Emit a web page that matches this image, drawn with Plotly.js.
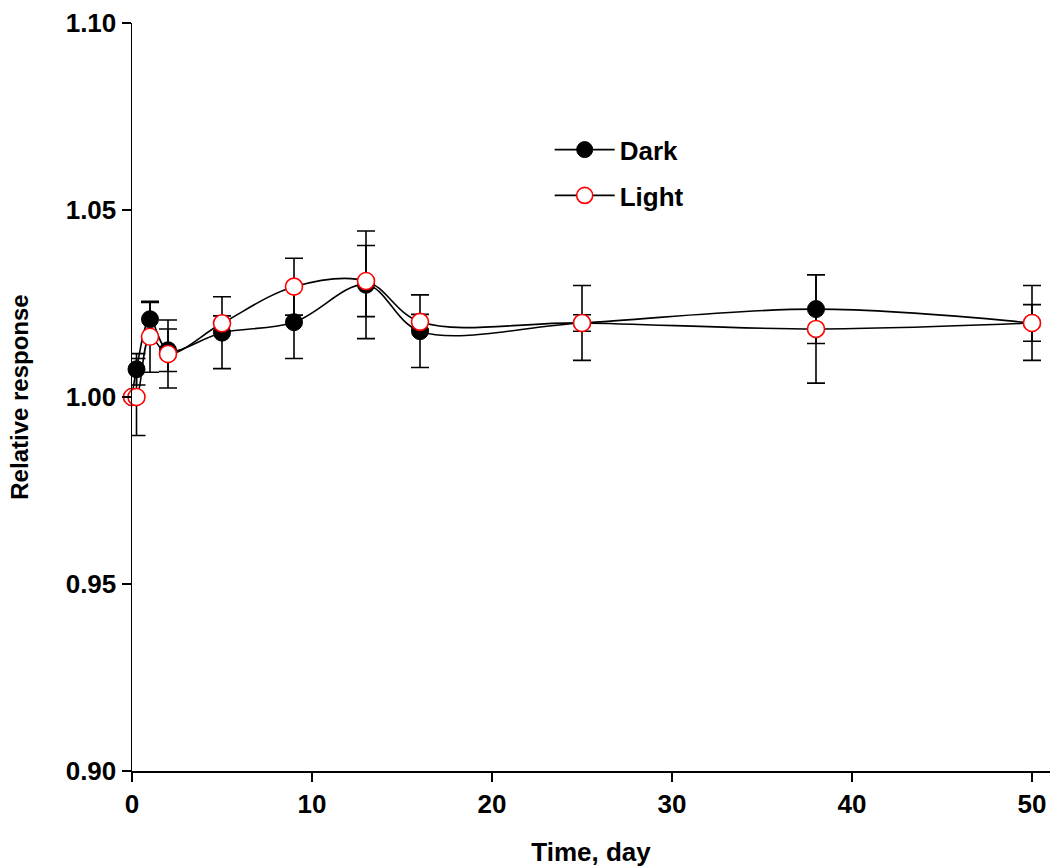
<!DOCTYPE html>
<html>
<head>
<meta charset="utf-8">
<script src="https://cdn.plot.ly/plotly-3.0.1.min.js"></script>
<style>html,body{margin:0;padding:0;background:#fff;}#chart{width:1053px;height:867px;}</style>
</head>
<body>
<div id="chart"></div>
<script>
const timeDays = [0, 0.25, 1, 2, 5, 9, 13, 16, 25, 38, 50];
const darkValues = [1.000, 1.0074, 1.0208, 1.0125, 1.0172, 1.0200, 1.0300, 1.0176, 1.0198, 1.0235, 1.0198];
const darkErrors = [0, 0.0042, 0.0045, 0.0057, 0.0096, 0.0097, 0.0144, 0.0097, 0.0100, 0.0092, 0.0100];
const lightValues = [1.000, 1.000, 1.0161, 1.0115, 1.0197, 1.0295, 1.0310, 1.0201, 1.0198, 1.0182, 1.0198];
const lightErrors = [0, 0.0103, 0.0095, 0.0091, 0.0020, 0.0076, 0.0095, 0.0020, 0.0022, 0.0145, 0.0049];
const seriesNames = ['Dark', 'Light'];
const yTicks = [0.90, 0.95, 1.00, 1.05, 1.10];
const xTicks = [0, 10, 20, 30, 40, 50];

const font = {family: 'Liberation Sans, Arial, sans-serif', color: '#000'};

const traces = [
  {
    x: timeDays, y: darkValues, name: seriesNames[0], legendgroup: 'g1', type: 'scatter', mode: 'lines+markers',
    cliponaxis: false,
    line: {color: '#000', width: 1.6, shape: 'spline', smoothing: 1},
    marker: {symbol: 'circle', size: 17, color: '#000', line: {color: '#000', width: 1}},
    error_y: {type: 'data', array: darkErrors, visible: true, color: '#000', thickness: 1.6, width: 9}
  },
  {
    x: timeDays, y: lightValues, name: seriesNames[1], legendgroup: 'g2', type: 'scatter', mode: 'lines+markers',
    cliponaxis: false,
    line: {color: '#000', width: 1.6, shape: 'spline', smoothing: 1},
    marker: {symbol: 'circle', size: 17, color: '#fff', line: {color: '#ff0000', width: 1.6}},
    error_y: {type: 'data', array: lightErrors, visible: true, color: '#000', thickness: 1.6, width: 9}
  }
];

const layout = {
  width: 1053, height: 867,
  margin: {l: 132, r: 3, t: 23, b: 96},
  paper_bgcolor: '#fff', plot_bgcolor: '#fff',
  showlegend: true,
  legend: {
    x: 0.455, y: 0.862, xanchor: 'left', yanchor: 'top',
    bgcolor: 'rgba(0,0,0,0)',
    font: Object.assign({}, font, {size: 26, weight: 700}),
    itemwidth: 60, tracegroupgap: 9
  },
  xaxis: {
    range: [0, 51], tickvals: xTicks, ticktext: xTicks.map(String),
    showgrid: false, zeroline: false, showline: true, linecolor: '#000', linewidth: 1.5,
    ticks: 'outside', ticklen: 9, tickwidth: 1.5, tickcolor: '#000',
    tickfont: Object.assign({}, font, {size: 26, weight: 700}),
    title: {text: 'Time, day', font: Object.assign({}, font, {size: 26, weight: 700}), standoff: 26}
  },
  yaxis: {
    range: [0.9, 1.1], tickvals: yTicks, ticktext: yTicks.map(v => v.toFixed(2)),
    showgrid: false, zeroline: false, showline: true, linecolor: '#000', linewidth: 1.5,
    ticks: 'outside', ticklen: 9, tickwidth: 1.5, tickcolor: '#000',
    tickfont: Object.assign({}, font, {size: 26, weight: 700}),
    title: {text: 'Relative response', font: Object.assign({}, font, {size: 24, weight: 700}), standoff: 30}
  }
};

Plotly.newPlot('chart', traces, layout, {staticPlot: true, displayModeBar: false});
</script>
</body>
</html>
